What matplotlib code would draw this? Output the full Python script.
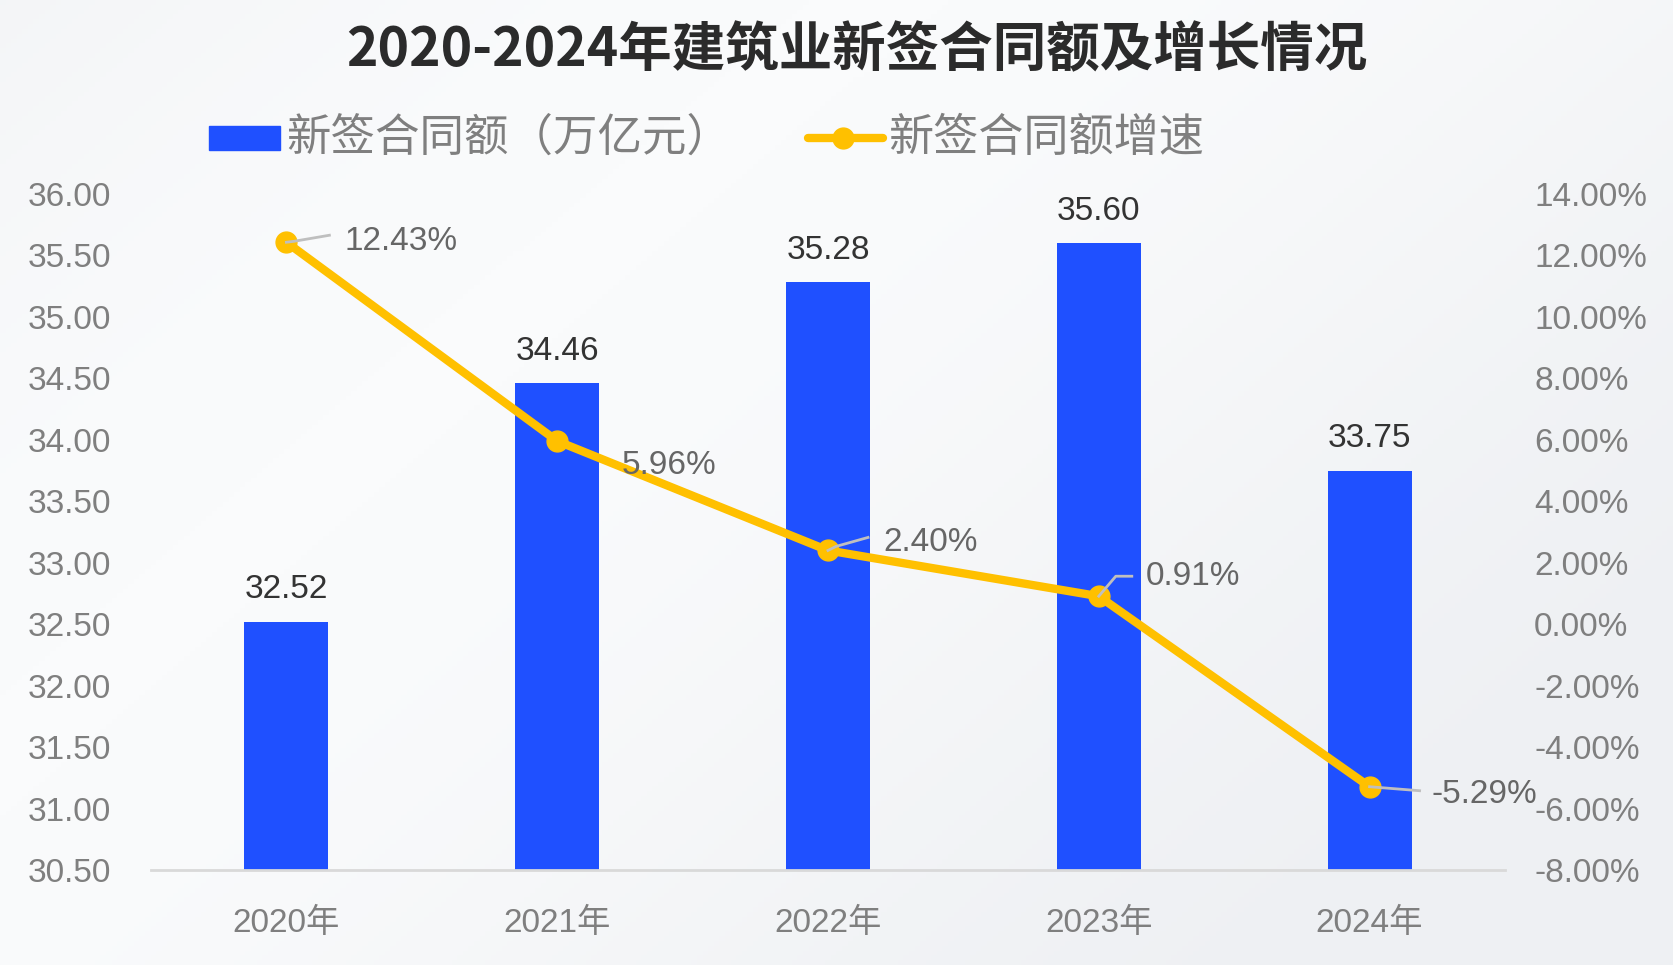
import numpy as np
import matplotlib.pyplot as plt
from matplotlib.lines import Line2D
from matplotlib.patches import Rectangle
from matplotlib.transforms import IdentityTransform
from matplotlib.colors import LinearSegmentedColormap

# Data
years = ['2020年', '2021年', '2022年', '2023年', '2024年']
contract_value = [32.52, 34.46, 35.28, 35.60, 33.75]   # 万亿元
growth_rate = [12.43, 5.96, 2.40, 0.91, -5.29]           # %

left_ticks = np.arange(30.5, 36.01, 0.5)
right_ticks = np.arange(-8, 14.01, 2)

# Colours
BLUE = '#1f50ff'
YELLOW = '#ffc000'
GREY = '#7f7f7f'
DARK = '#333333'
MIX = ['Liberation Sans', 'Noto Sans CJK SC', 'DejaVu Sans']
CJK = ['Noto Sans CJK SC', 'DejaVu Sans']

W, H = 1673, 965
fig = plt.figure(figsize=(W / 100, H / 100), dpi=100)
fig.patch.set_facecolor('#f6f7f9')

# subtle background gradient
bg = fig.add_axes([0, 0, 1, 1], zorder=-10)
gx = np.linspace(0, 1, 300)
gy = np.linspace(0, 1, 200)
GX, GY = np.meshgrid(gx, gy)
grad = 0.5 + 0.5 * np.sin(3.0 * GX + 2.0 * GY)
cmap = LinearSegmentedColormap.from_list('bgc', ['#eef0f3', '#fafbfc'])
bg.imshow(grad, cmap=cmap, aspect='auto', extent=[0, 1, 0, 1])
bg.axis('off')

ax = fig.add_axes([151 / W, 95 / H, (1505 - 151) / W, (870 - 194) / H])
ax.patch.set_alpha(0)
x = np.arange(len(years))

bars = ax.bar(x, contract_value, width=0.31, color=BLUE, zorder=2)
ax.set_xlim(-0.5, 4.5)
ax.set_ylim(30.5, 36.0)
ax.set_yticks(left_ticks)
ax.set_yticklabels([f'{v:.2f}' for v in left_ticks], family=MIX, fontsize=24, color=GREY)
ax.set_xticks(x)
ax.set_xticklabels(years, family=MIX, fontsize=24, color=GREY)
ax.tick_params(axis='y', length=0, pad=29)
ax.tick_params(axis='x', length=0, pad=27)
for s in ['top', 'right', 'left']:
    ax.spines[s].set_visible(False)
ax.spines['bottom'].set_color('#d9d9d9')
ax.spines['bottom'].set_linewidth(2)

for xi, v in zip(x, contract_value):
    ax.annotate(f'{v:.2f}', (xi, v), xytext=(0, 32), textcoords='offset pixels',
                ha='center', va='center', fontsize=24, color=DARK, family=MIX)

ax2 = ax.twinx()
ax2.set_ylim(-8, 14)
ax2.set_yticks(right_ticks)
ax2.set_yticklabels([f'{v:.2f}%' for v in right_ticks], family=MIX, fontsize=24, color=GREY)
ax2.tick_params(axis='y', length=0, pad=21)
for s in ['top', 'right', 'left', 'bottom']:
    ax2.spines[s].set_visible(False)

ax2.plot(x, growth_rate, color=YELLOW, lw=6, marker='o', markersize=15, zorder=3,
         solid_capstyle='round')

# percentage labels with leader lines (offsets in pixels from the point)
label_offsets = [(58, 1), (64, -24), (55, 8), (47, 20), (62, -8)]
leaders = [
    [(0, 0), (8, 1), (43, 7)],
    None,
    [(0, 0), (8, 4), (40, 13)],
    [(0, 0), (17, 20), (33, 20)],
    [(0, 0), (50, -4)],
]
for xi, v, (dx, dy), ld in zip(x, growth_rate, label_offsets, leaders):
    ax2.annotate(f'{v:.2f}%', (xi, v), xytext=(dx, dy), textcoords='offset pixels',
                 ha='left', va='center', fontsize=24, color='#666666', family=MIX, zorder=5)
    if ld is not None:
        px, py = ax2.transData.transform((xi, v))
        xs = [px + a for a, b in ld]
        ys = [py + b for a, b in ld]
        fig.add_artist(Line2D(xs, ys, transform=IdentityTransform(), color='#bfbfbf', lw=2, zorder=4))

# title
fig.text(0.512, 1 - 51 / H, '2020-2024年建筑业新签合同额及增长情况', ha='center', va='center',
         fontsize=38.5, fontweight='bold', color='#2b2b2b', family=CJK)

# legend (manual)
ly = 1 - 138 / H
fig.add_artist(Rectangle((209 / W, ly - 12 / H), 71 / W, 24 / H, transform=fig.transFigure,
                         color=BLUE))
fig.text(286 / W, ly, '新签合同额（万亿元）', ha='left', va='center', fontsize=32, color=GREY,
         family=CJK)
fig.add_artist(Line2D([808 / W, 883 / W], [ly, ly], transform=fig.transFigure, color=YELLOW, lw=6,
                      solid_capstyle='round'))
fig.add_artist(Line2D([843 / W], [ly], transform=fig.transFigure, color=YELLOW, marker='o',
                      markersize=15))
fig.text(888 / W, ly, '新签合同额增速', ha='left', va='center', fontsize=32.5, color=GREY,
         family=CJK)

fig.savefig('out.png', dpi=100, facecolor=fig.get_facecolor())
